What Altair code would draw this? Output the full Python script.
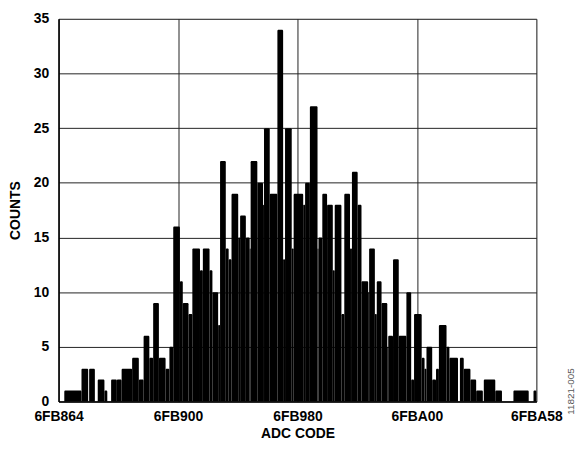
import altair as alt
import pandas as pd

# ADC code histogram, codes as offsets from 0x6FB864 (0..500)
run_start = [0, 6, 24, 31, 32, 38, 41, 48, 51, 55, 61, 66, 77, 84, 89, 95, 99, 105, 112, 116,
             120, 127, 130, 136, 140, 148, 151, 158, 161, 167, 169, 175, 178, 181, 188, 190, 196,
             200, 201, 208, 214, 215, 221, 229, 235, 237, 244, 246, 256, 258, 263, 271, 272, 276,
             281, 287, 289, 296, 299, 305, 307, 313, 317, 324, 325, 331, 333, 338, 344, 345, 350,
             356, 364, 369, 372, 380, 383, 385, 391, 395, 398, 406, 409, 418, 420, 424, 431, 437,
             444, 445, 457, 464, 476, 492, 497]
run_count = [0, 1, 3, 0, 3, 0, 2, 1, 0, 2, 2, 3, 4, 2, 6, 4, 9, 4, 3, 5,
             16, 11, 9, 8, 14, 12, 14, 12, 10, 7, 22, 14, 13, 19, 15, 17, 15,
             14, 22, 20, 18, 25, 19, 34, 13, 25, 14, 19, 18, 20, 27, 14, 15, 19,
             18, 12, 18, 8, 19, 14, 21, 18, 11, 10, 14, 8, 11, 9, 5, 6, 13,
             6, 10, 2, 8, 4, 3, 5, 2, 3, 7, 5, 4, 0, 4, 3, 2, 1,
             0, 2, 1, 0, 1, 0, 1]
code_end = 500

tick_pos = [0, 125, 250, 375, 500]
tick_labels = ["6FB864", "6FB900", "6FB980", "6FBA00", "6FBA58"]
y_ticks = [0, 5, 10, 15, 20, 25, 30, 35]

run_end = run_start[1:] + [code_end]
df = pd.DataFrame({"start": run_start, "end": run_end, "count": run_count})
df = df[df["count"] > 0]

label_map = "{" + ",".join(f"'{p}':'{l}'" for p, l in zip(tick_pos, tick_labels)) + "}"

FONT = "Liberation Sans"

x_scale = alt.Scale(domain=[0, code_end], nice=False, zero=False)
y_scale = alt.Scale(domain=[0, 35], nice=False)

bars = alt.Chart(df).mark_bar(
    color="black", cornerRadiusTopLeft=1.2, cornerRadiusTopRight=1.2
).encode(
    x=alt.X("start:Q", scale=x_scale, title="ADC CODE",
            axis=alt.Axis(values=tick_pos, labelExpr=f"{label_map}[datum.value]",
                          grid=True, gridColor="#222", gridWidth=1, ticks=False,
                          domain=True, domainColor="black", domainWidth=1.5,
                          labelFont=FONT, labelFontSize=14, labelFontWeight="bold",
                          labelColor="black", labelPadding=8, labelFlush=False,
                          titleFont=FONT, titleFontSize=14, titleFontWeight="bold",
                          titleColor="black", titlePadding=3)),
    x2="end:Q",
    y=alt.Y("count:Q", scale=y_scale, title="COUNTS",
            axis=alt.Axis(values=y_ticks, grid=True, gridColor="#222", gridWidth=1,
                          ticks=False, domain=True, domainColor="black", domainWidth=1.5,
                          labelFont=FONT, labelFontSize=14, labelFontWeight="bold",
                          labelColor="black", labelPadding=10,
                          titleFont=FONT, titleFontSize=14, titleFontWeight="bold",
                          titleColor="black", titlePadding=11)),
    y2=alt.datum(0),
)

note = alt.Chart(pd.DataFrame({"t": ["11821-005"]})).mark_text(
    angle=270, font=FONT, fontSize=10, color="#555", align="center", baseline="middle"
).encode(text="t:N", x=alt.value(517), y=alt.value(376))

chart = alt.layer(bars, note).properties(
    width=482, height=386,
    autosize=alt.AutoSizeParams(type="none"),
    padding={"left": 51, "top": 9, "right": 42, "bottom": 40},
).configure_view(stroke="black", strokeWidth=1.5).configure(background="white")

chart.save("out.html", embed_options={"renderer": "svg", "actions": False})
